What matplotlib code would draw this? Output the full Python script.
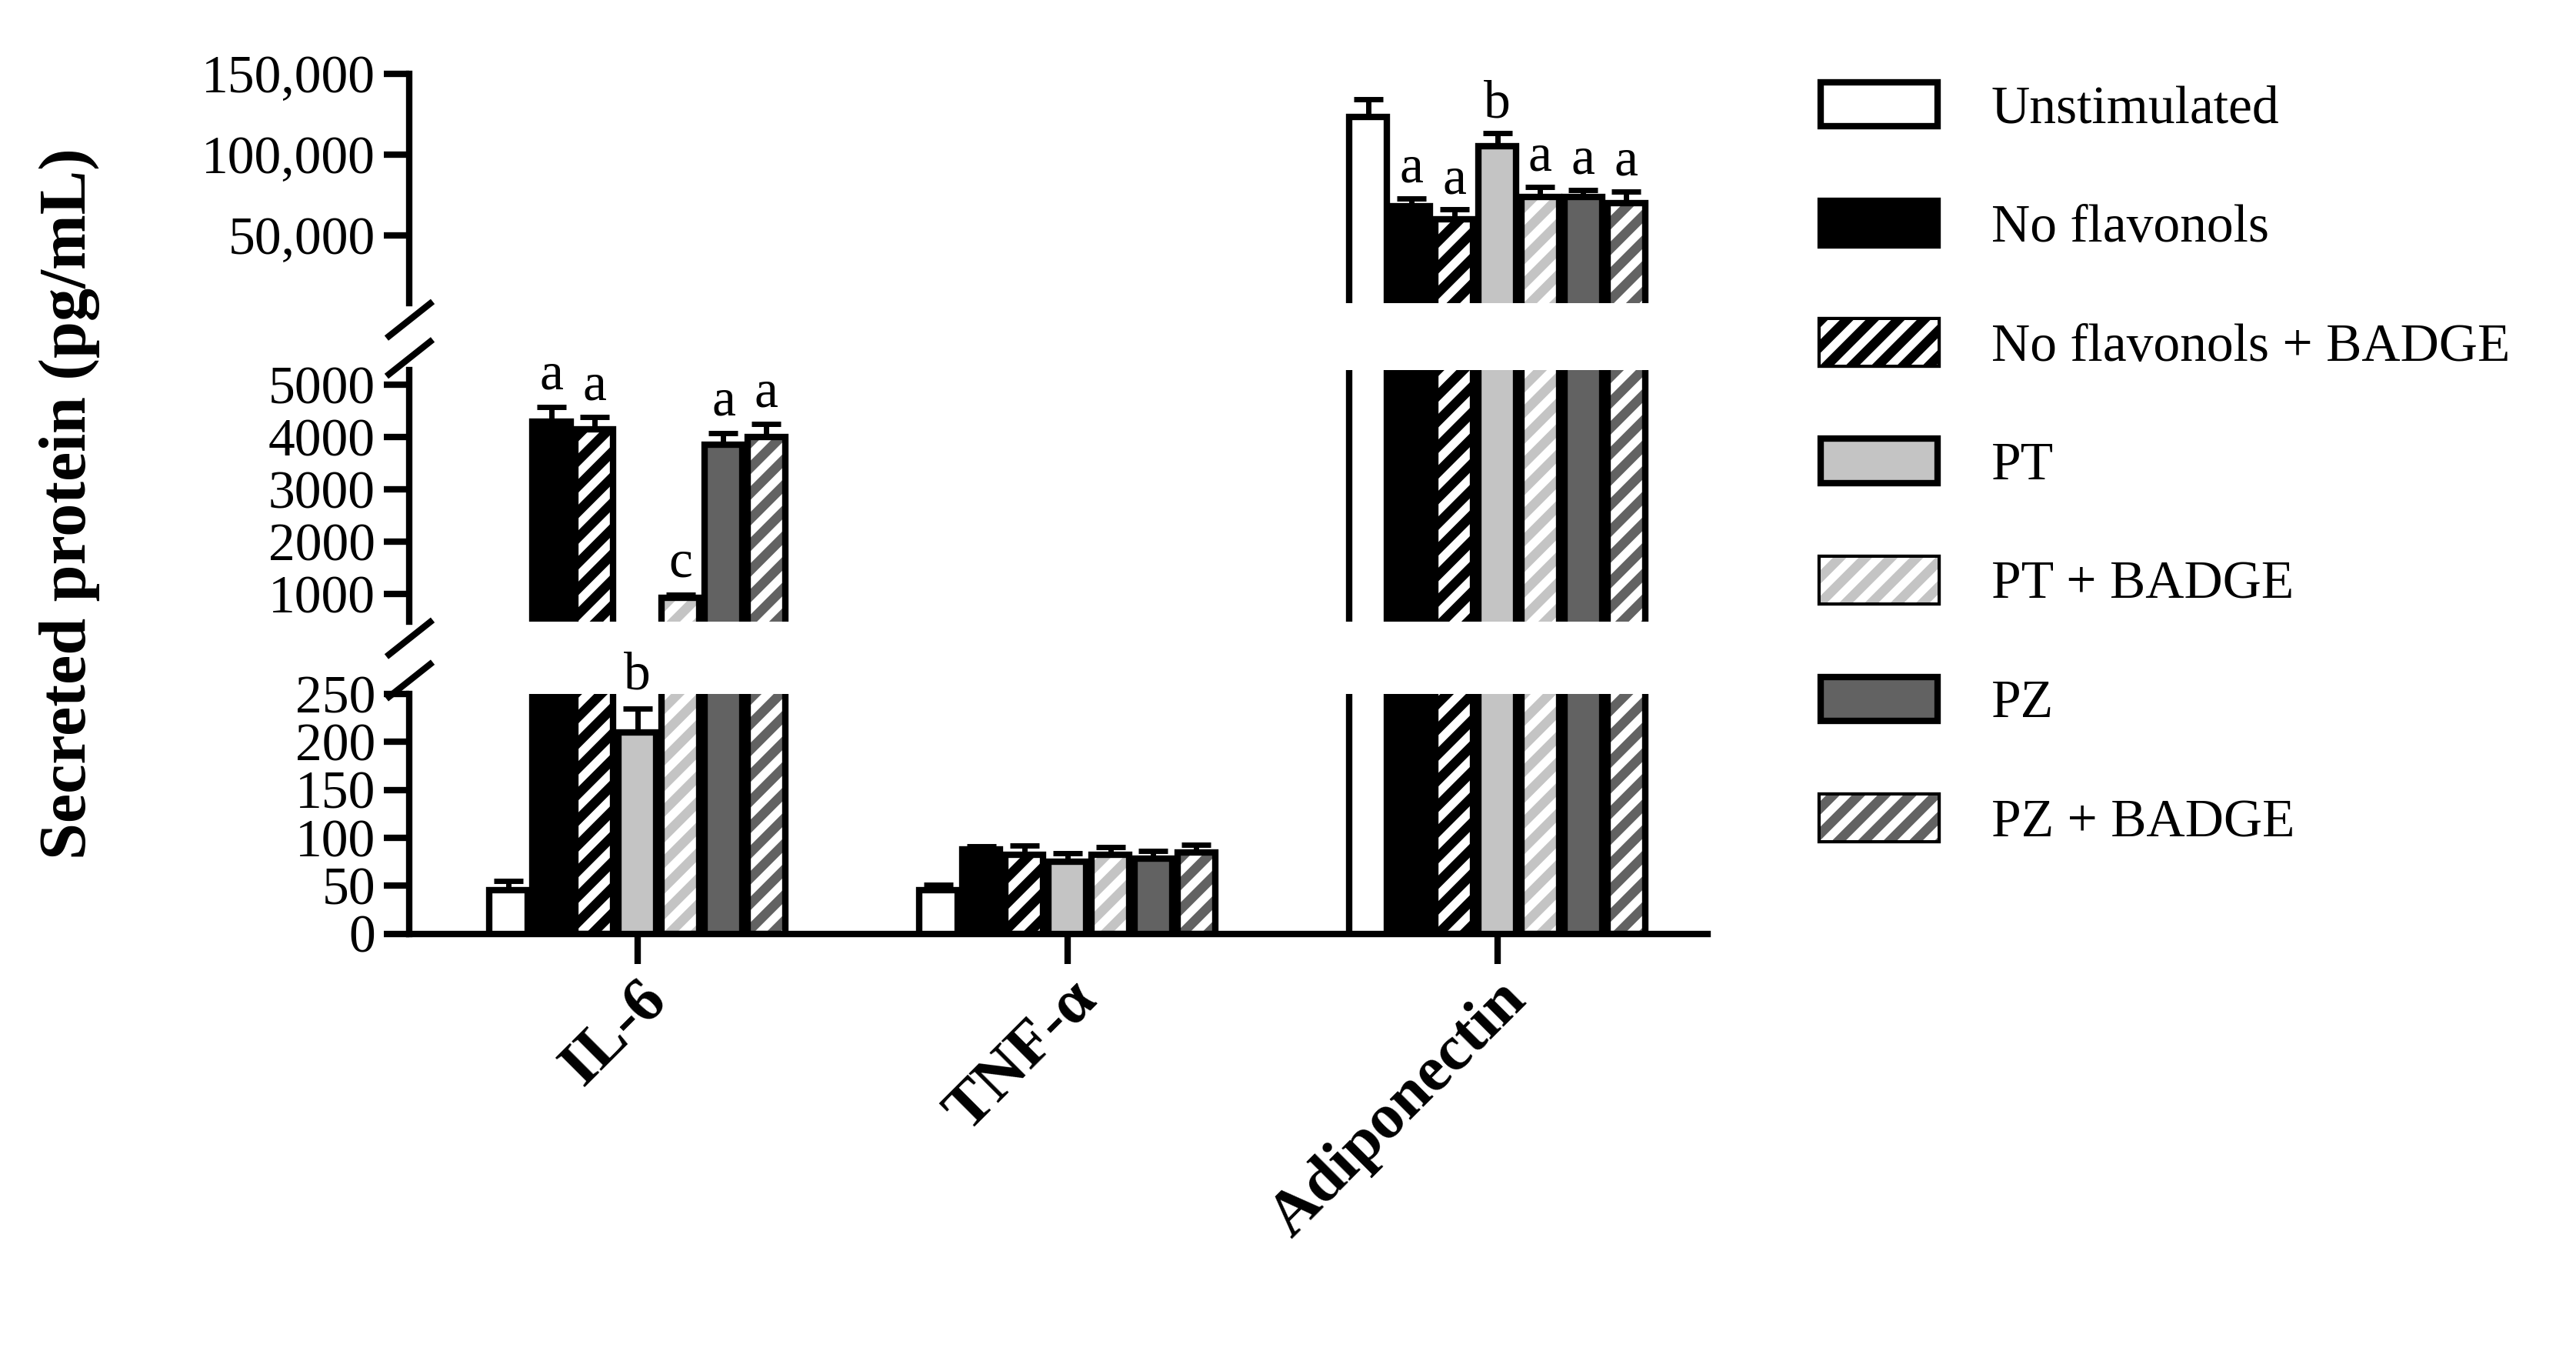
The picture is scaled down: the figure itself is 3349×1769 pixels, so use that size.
import matplotlib
matplotlib.use("Agg")
import matplotlib.pyplot as plt
from matplotlib.patches import Patch
from matplotlib.lines import Line2D
import numpy as np

plt.rcParams['font.family'] = ['Liberation Serif', 'DejaVu Serif']
plt.rcParams['hatch.linewidth'] = 4

groups = ["IL-6", "TNF-\u03b1", "Adiponectin"]
series = ["Unstimulated", "No flavonols", "No flavonols + BADGE", "PT", "PT + BADGE", "PZ", "PZ + BADGE"]
faces = ["white", "black", "black", "#c4c4c4", "#c4c4c4", "#626262", "#626262"]
hatched = [False, False, True, False, True, False, True]

il6 = [45, 4300, 4150, 210, 930, 3850, 4000]
il6_err = [10, 280, 230, 25, 60, 230, 250]
tnf = [45, 88, 82, 75, 82, 78, 85]
tnf_err = [6, 3, 10, 9, 8, 8, 8]
adipo = [123000, 68000, 60000, 105000, 74000, 74000, 70000]
adipo_err = [11000, 5000, 6000, 8000, 6000, 4000, 7000]
il6_letters = ["", "a", "a", "b", "c", "a", "a"]
adipo_letters = ["", "a", "a", "b", "a", "a", "a"]

values = [il6, tnf, adipo]
errors = [il6_err, tnf_err, adipo_err]

fig = plt.figure(figsize=(16.745, 8.845), dpi=200)
L, R = 0.159, 0.663
ax_top = fig.add_axes([L, 0.777, R - L, 0.946 - 0.777])
ax_mid = fig.add_axes([L, 0.543, R - L, 0.728 - 0.543])
ax_bot = fig.add_axes([L, 0.314, R - L, 0.490 - 0.314])
axes = [ax_top, ax_mid, ax_bot]
ax_top.set_ylim(8000, 150000)
ax_mid.set_ylim(470, 5280)
ax_bot.set_ylim(0, 250)
ax_top.set_yticks([50000, 100000, 150000])
ax_top.set_yticklabels(["50,000", "100,000", "150,000"])
ax_mid.set_yticks([1000, 2000, 3000, 4000, 5000])
ax_bot.set_yticks([0, 50, 100, 150, 200, 250])

w = 0.088
for ax in axes:
    ax.set_xlim(-0.53, 2.49)
    for sp in ["top", "right", "bottom"]:
        ax.spines[sp].set_visible(False)
    ax.spines["left"].set_linewidth(3)
    ax.tick_params(axis="y", width=3, length=12, labelsize=25, pad=4)
    ax.set_xticks([])
    for g in range(3):
        for i in range(7):
            x = g + (i - 3) * 0.1
            v = values[g][i]
            e = errors[g][i]
            ax.errorbar(x, v, yerr=[[0], [e]], color="black", capsize=7,
                        elinewidth=2.5, capthick=2.5, zorder=1)
            if hatched[i]:
                ax.bar(x, v, w, color=faces[i], edgecolor="white", hatch="//", linewidth=0, zorder=2)
                ax.bar(x, v, w, fill=False, edgecolor="black", linewidth=3, zorder=3)
            else:
                ax.bar(x, v, w, color=faces[i], edgecolor="black", linewidth=3, zorder=3)

for i in range(7):
    x = (i - 3) * 0.1
    if il6_letters[i]:
        ax = ax_bot if il6[i] < 250 else ax_mid
        ax.text(x, il6[i] + il6_err[i] + (8 if ax is ax_bot else 120), il6_letters[i],
                ha="center", va="bottom", fontsize=25)
    if adipo_letters[i]:
        ax_top.text(2 + x, adipo[i] + adipo_err[i] + 3000, adipo_letters[i],
                    ha="center", va="bottom", fontsize=25)

ax_bot.spines["bottom"].set_visible(True)
ax_bot.spines["bottom"].set_linewidth(3)
ax_bot.set_xticks([0, 1, 2])
ax_bot.set_xticklabels(groups, rotation=45, ha="right", rotation_mode="anchor",
                       fontsize=30, fontweight="bold")
ax_bot.tick_params(axis="x", width=3, length=14)

# break marks
for yb in [0.765, 0.531, 0.5, 0.737]:
    fig.add_artist(Line2D([L - 0.008, L + 0.008], [yb - 0.012, yb + 0.012],
                          transform=fig.transFigure, color="black", lw=3))

fig.text(0.027, 0.63, "Secreted protein (pg/mL)", rotation=90, ha="center", va="center",
         fontsize=31, fontweight="bold")

handles = []
for i in range(7):
    handles.append(Patch(facecolor=faces[i], edgecolor="black" if not hatched[i] else "white",
                         hatch="//" if hatched[i] else None, linewidth=3 if not hatched[i] else 0))
leg = fig.legend(handles, series, loc="upper left", bbox_to_anchor=(0.688, 0.975), frameon=False,
                 fontsize=25, handlelength=2.2, handleheight=0.9, labelspacing=1.25, handletextpad=1.0)
# outline the hatched legend handles
fig.canvas.draw()
for i, p in enumerate(leg.get_patches()):
    if hatched[i]:
        bb = p.get_window_extent().transformed(fig.transFigure.inverted())
        fig.add_artist(plt.Rectangle((bb.x0, bb.y0), bb.width, bb.height, fill=False,
                                     edgecolor="black", lw=3, transform=fig.transFigure))

fig.savefig("out.png", dpi=200)
